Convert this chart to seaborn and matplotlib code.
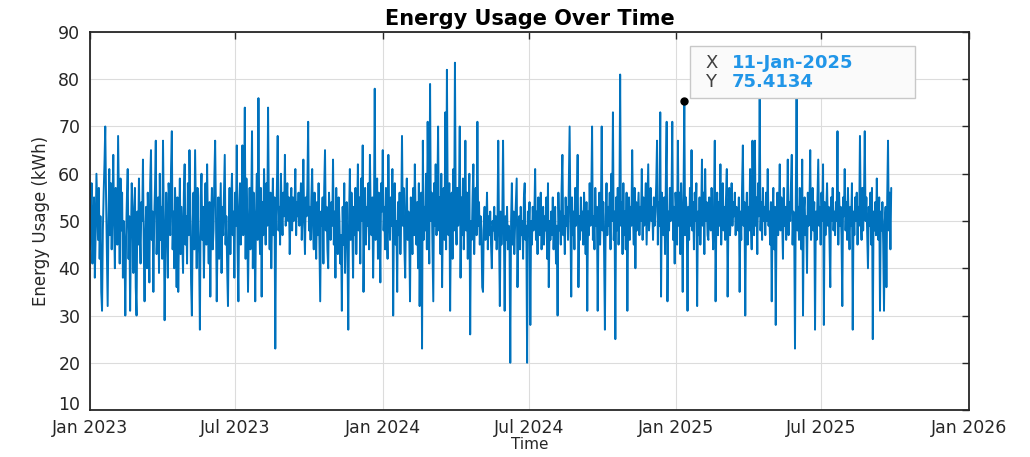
import numpy as np
import pandas as pd
import matplotlib
matplotlib.use('Agg')
import matplotlib.pyplot as plt
import matplotlib.dates as mdates
from matplotlib.patches import Rectangle
import seaborn as sns

# daily energy usage (kWh), one list per year
usage_2023 = [
    44, 52, 58, 41, 49, 55, 38, 47, 60, 53,
    46, 57, 42, 51, 35, 31, 48, 56, 62, 70,
    55, 43, 32, 50, 61, 47, 58, 44, 53, 64,
    49, 40, 57, 52, 45, 68, 54, 41, 59, 48,
    56, 38, 50, 44, 30, 47, 55, 61, 42, 51,
    31, 46, 58, 53, 39, 49, 57, 36, 30, 52,
    45, 59, 48, 41, 54, 50, 63, 44, 33, 47,
    53, 40, 56, 49, 37, 58, 65, 46, 52, 35,
    50, 57, 67, 43, 48, 55, 39, 60, 46, 53,
    42, 67, 51, 29, 45, 56, 49, 38, 58, 54,
    47, 61, 69, 44, 52, 40, 57, 50, 36, 55,
    35, 48, 59, 43, 53, 46, 39, 56, 62, 45,
    51, 41, 58, 47, 65, 54, 37, 30, 49, 56,
    44, 65, 52, 40, 57, 48, 43, 27, 55, 60,
    46, 53, 38, 50, 58, 45, 62, 49, 41, 54,
    34, 51, 57, 44, 48, 59, 67, 52, 33, 46,
    55, 42, 50, 58, 39, 53, 47, 56, 64, 45,
    51, 40, 32, 49, 57, 43, 54, 60, 47, 52,
    38, 56, 49, 66, 44, 33, 53, 58, 45, 50,
    66, 47, 55, 74, 42, 59, 51, 35, 48, 57,
    44, 53, 69, 40, 56, 49, 33, 52, 60, 46,
    76, 50, 43, 57, 34, 54, 47, 61, 52, 45,
    58, 49, 74, 53, 44, 56, 40, 51, 59, 47,
    55, 23, 50, 57, 68, 48, 53, 45, 60, 52,
    47, 56, 51, 64, 49, 54, 58, 50, 55, 43,
    52, 57, 48, 55, 50, 53, 61, 47, 54, 51,
    56, 49, 53, 58, 46, 52, 63, 50, 43, 55,
    51, 57, 71, 48, 53, 46, 55, 61, 49, 44,
    56, 50, 42, 54, 47, 58, 45, 33, 52, 49,
    55, 41, 57, 65, 48, 53, 44, 40, 56, 50,
    46, 54, 49, 63, 45, 52, 38, 57, 48, 43,
    55, 50, 41, 47, 31, 53, 45, 58, 39, 49,
    54, 44, 27, 51, 61, 46, 56, 49, 38, 53,
    47, 57, 43, 51, 62, 48, 55, 41, 59, 50,
    66, 35, 52, 57, 45, 53, 49, 58, 44, 64,
    51, 47, 55, 38, 50, 78, 46, 53, 59, 42,
    56, 49, 37, 58, 52,
]

usage_2024 = [
    65, 48, 53, 44, 57, 50, 42, 64, 51, 46,
    55, 49, 61, 30, 52, 58, 45, 50, 35, 54,
    47, 56, 43, 51, 68, 49, 57, 44, 38, 53,
    59, 46, 52, 48, 33, 55, 50, 43, 57, 47,
    62, 51, 45, 54, 40, 58, 32, 49, 56, 23,
    67, 46, 53, 48, 60, 44, 71, 52, 41, 79,
    50, 56, 45, 33, 58, 49, 62, 47, 54, 70,
    48, 55, 43, 60, 36, 51, 57, 46, 73, 44,
    82, 53, 47, 58, 31, 50, 56, 42, 61, 48,
    83.5, 52, 45, 57, 49, 54, 70, 38, 55, 47,
    59, 44, 51, 67, 48, 56, 42, 53, 60, 26,
    50, 46, 55, 62, 43, 52, 57, 47, 71, 49,
    54, 45, 51, 48, 36, 35, 50, 53, 46, 49,
    56, 44, 51, 47, 52, 45, 40, 50, 48, 53,
    46, 51, 44, 49, 67, 47, 32, 52, 45, 50,
    67, 48, 31, 51, 46, 53, 44, 49, 47, 20,
    50, 58, 45, 52, 43, 49, 54, 59, 36, 48,
    51, 44, 53, 47, 50, 42, 55, 58, 46, 49,
    20, 52, 47, 54, 28, 50, 45, 53, 48, 51,
    61, 46, 52, 43, 55, 49, 47, 56, 44, 50,
    53, 45, 51, 48, 55, 42, 58, 36, 50, 46,
    52, 47, 55, 44, 50, 53, 41, 49, 30, 56,
    48, 52, 45, 57, 64, 47, 51, 43, 55, 49,
    53, 46, 58, 70, 50, 34, 55, 47, 52, 44,
    57, 49, 53, 64, 36, 51, 46, 55, 48, 52,
    45, 56, 50, 43, 54, 31, 52, 47, 58, 49,
    55, 70, 46, 51, 44, 57, 49, 53, 31, 50,
    56, 45, 52, 70, 48, 54, 43, 27, 51, 58,
    47, 53, 49, 56, 44, 60, 50, 73, 46, 52,
    25, 55, 48, 57, 45, 51, 81, 49, 54, 43,
    58, 47, 52, 44, 56, 31, 50, 55, 46, 53,
    49, 65, 51, 45, 57, 40, 54, 48, 52, 56,
    47, 53, 50, 61, 46, 55, 49, 52, 58, 45,
    54, 62, 48, 51, 57, 50, 53, 46, 55, 49,
    52, 58, 67, 45, 54, 49, 73, 34, 56, 51,
    47, 55, 43, 59, 71, 33, 52, 48, 57, 50,
    54, 71, 46, 53, 41, 56,
]

usage_2025 = [
    52, 45, 67, 49, 56, 43, 58, 50, 35, 54,
    75.4134, 47, 55, 51, 31, 53, 46, 57, 49, 65,
    48, 54, 44, 56, 50, 58, 32, 52, 47, 55,
    45, 51, 63, 49, 56, 43, 61, 50, 54, 47,
    46, 55, 52, 48, 57, 50, 44, 53, 67, 33,
    51, 56, 47, 54, 49, 62, 45, 52, 58, 48,
    53, 46, 55, 61, 34, 50, 57, 47, 52, 58,
    49, 54, 51, 56, 47, 53, 50, 48, 55, 35,
    52, 46, 57, 66, 49, 54, 30, 51, 56, 45,
    53, 48, 61, 50, 44, 67, 52, 47, 67, 49,
    55, 43, 58, 51, 76, 48, 54, 46, 57, 50,
    53, 47, 56, 50, 61, 49, 52, 45, 54, 33,
    51, 57, 44, 53, 28, 50, 56, 47, 52, 62,
    48, 55, 50, 42, 57, 49, 53, 46, 51, 63,
    47, 54, 50, 58, 64, 45, 52, 49, 23, 55,
    76, 48, 53, 46, 57, 50, 44, 63, 30, 52,
    55, 47, 51, 39, 56, 49, 53, 65, 46, 51,
    57, 48, 54, 27, 52, 46, 55, 63, 49, 53,
    45, 56, 50, 62, 28, 54, 47, 52, 58, 49,
    53, 46, 36, 55, 50, 57, 48, 52, 47, 54,
    50, 69, 45, 56, 49, 53, 47, 32, 55, 51,
    61, 48, 54, 46, 57, 50, 44, 53, 49, 58,
    27, 52, 47, 55, 50, 56, 45, 53, 49, 68,
    51, 46, 57, 48, 54, 69, 50, 55, 47, 40,
    53, 49, 56, 45, 57, 25, 52, 48, 54, 47,
    59, 50, 46, 55, 31, 52, 48, 54, 45, 31,
    50, 53, 36, 55, 67, 48, 56, 44, 57,
]

years = [2023, 2024, 2025]
tip_date = pd.Timestamp('2025-01-11')

# build one daily table
frames = []
for year, vals in zip(years, [usage_2023, usage_2024, usage_2025]):
    frames.append(pd.DataFrame({
        'Time': pd.date_range(f'{year}-01-01', periods=len(vals), freq='D'),
        'Energy Usage (kWh)': vals,
    }))
df = pd.concat(frames, ignore_index=True)

sns.set_style('white')
plt.rcParams['font.family'] = ['DejaVu Sans']

fig = plt.figure(figsize=(10.3, 4.57), dpi=100)
ax = fig.add_axes([0.0874, 0.1028, 0.8534, 0.8272])

sns.lineplot(data=df, x='Time', y='Energy Usage (kWh)', color='#0072BD',
             linewidth=1.4, ax=ax)

# axes look (matlab-ish)
ax.set_xlim(pd.Timestamp('2023-01-01'), pd.Timestamp('2026-01-01'))
ax.set_ylim(10, 90)
ax.set_yticks(np.arange(10, 91, 10))
ax.xaxis.set_major_locator(mdates.MonthLocator(bymonth=[1, 7]))
ax.xaxis.set_major_formatter(mdates.DateFormatter('%b %Y'))
ax.grid(True, color='#DCDCDC', linewidth=0.8)
ax.set_axisbelow(True)
for sp in ax.spines.values():
    sp.set_color('#262626')
    sp.set_linewidth(1.3)
ax.tick_params(direction='in', top=True, right=True, length=5, width=1,
               colors='#262626', labelsize=12.5)
ax.tick_params(axis='x', pad=6.4)
ax.tick_params(axis='y', pad=7)
# lift the bottom y label a bit so it clears "Jan 2023"
ax.get_yticklabels()[0].set_va('baseline')

ax.set_title('Energy Usage Over Time', fontsize=15, fontweight='bold',
             color='#000000', pad=5)
ax.set_xlabel('Time', fontsize=11, color='#262626', labelpad=0)
ax.set_ylabel('Energy Usage (kWh)', fontsize=12, color='#262626', labelpad=6)

# datatip
tip = df[df['Time'] == tip_date].iloc[0]
ax.plot(tip['Time'], tip['Energy Usage (kWh)'], 'o', color='black',
        markersize=5, zorder=5)
ax.add_patch(Rectangle((0.682, 0.826), 0.257, 0.138, transform=ax.transAxes,
                       facecolor='#FAFAFA', edgecolor='#C8C8C8',
                       linewidth=1, zorder=6))
ax.text(0.70, 0.919, 'X', transform=ax.transAxes, fontsize=13,
        color='#404040', va='center', ha='left', zorder=7)
ax.text(0.70, 0.867, 'Y', transform=ax.transAxes, fontsize=13,
        color='#404040', va='center', ha='left', zorder=7)
ax.text(0.73, 0.919, tip['Time'].strftime('%d-%b-%Y'), transform=ax.transAxes,
        fontsize=13, fontweight='bold', color='#2196E8', va='center',
        ha='left', zorder=7)
ax.text(0.73, 0.867, f"{tip['Energy Usage (kWh)']:.4f}", transform=ax.transAxes,
        fontsize=13, fontweight='bold', color='#2196E8', va='center',
        ha='left', zorder=7)

fig.savefig('out.png', dpi=100)
